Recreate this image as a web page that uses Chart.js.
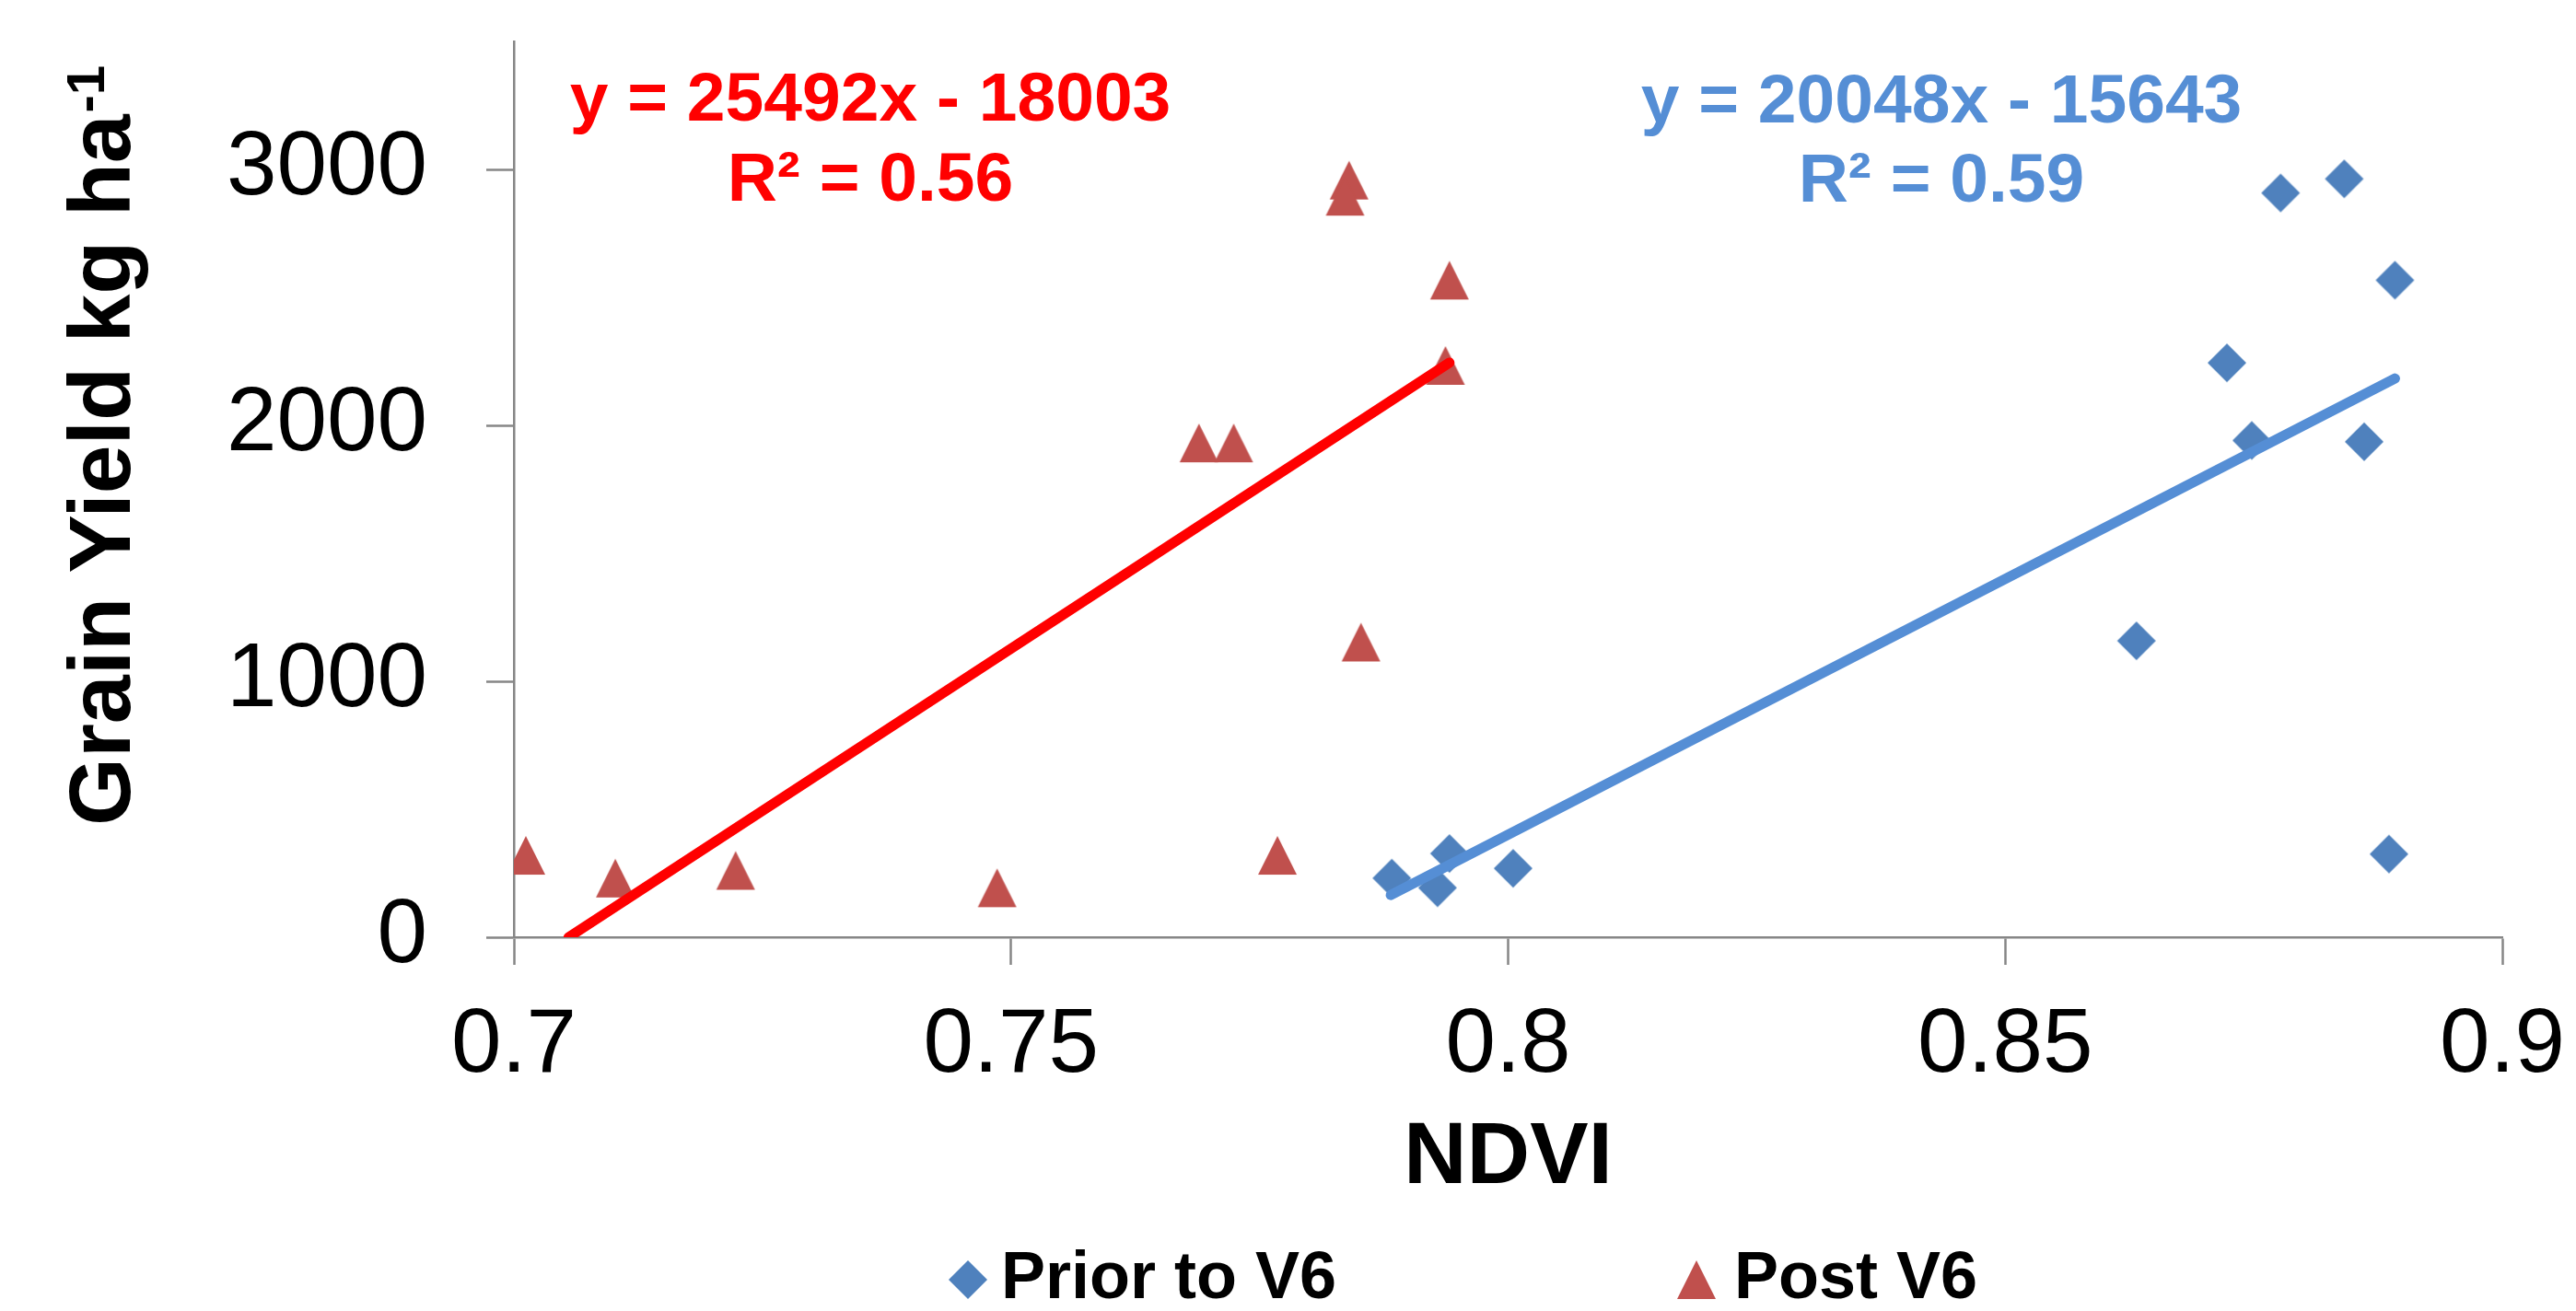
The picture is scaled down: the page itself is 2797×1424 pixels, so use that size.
<!DOCTYPE html>
<html>
<head>
<meta charset="utf-8">
<title>Grain yield vs NDVI</title>
<script src="https://cdn.jsdelivr.net/npm/chart.js@4.4.1/dist/chart.umd.min.js"></script>
<style>
  html, body { margin: 0; padding: 0; background: #fff; overflow: hidden; }
  canvas { display: block; }
</style>
</head>
<body>
<canvas id="chart" width="2797" height="1424"></canvas>
<script>
// values
const xTicks = [0.7, 0.75, 0.8, 0.85, 0.9];
const xTickLabels = ['0.7', '0.75', '0.8', '0.85', '0.9'];
const yTicks = [0, 1000, 2000, 3000];

const seriesLabels = ['Prior to V6', 'Post V6'];

const priorNdvi  = [0.7883, 0.7929, 0.7941, 0.8005, 0.8632, 0.8723, 0.8748, 0.8777, 0.8841, 0.8892, 0.8861, 0.8886];
const priorYield = [231, 193, 327, 269, 1158, 2244, 1941, 2908, 2963, 2567, 1936, 325];

const postNdvi  = [0.7012, 0.7102, 0.7223, 0.7486, 0.7689, 0.7724, 0.7768, 0.7840, 0.7836, 0.7941, 0.7937, 0.7852];
const postYield = [320, 231, 261, 193, 1931, 1931, 320, 2958, 2895, 2567, 2234, 1153];

// trendline end points as drawn in the picture
const priorTrendNdvi  = [0.7882, 0.8892];
const priorTrendYield = [165, 2183];
const postTrendNdvi  = [0.7055, 0.7941];
const postTrendYield = [0, 2245];

const postEquation  = ['y = 25492x - 18003', 'R\u00B2 = 0.56'];
const priorEquation = ['y = 20048x - 15643', 'R\u00B2 = 0.59'];

const FONT = '"Liberation Sans", Arial, sans-serif';
const BLUE_MARK = '#4F81BD';
const RED_MARK = '#C0504D';
const BLUE_LINE = '#558ED5';
const RED_LINE = '#FF0000';
const AXIS = '#868686';

function toPoints(xs, ys) {
    return xs.map(function(x, i) { return { x: x, y: ys[i] }; });
}

// marker images, centred on their bounding box like the original
function makeMarker(kind, color) {
    const c = document.createElement('canvas');
    c.width = 44;
    c.height = 44;
    const g = c.getContext('2d');
    g.fillStyle = color;
    g.beginPath();
    if (kind === 'diamond') {
        g.moveTo(22, 1); g.lineTo(43, 22); g.lineTo(22, 43); g.lineTo(1, 22);
    } else {
        g.moveTo(22, 1); g.lineTo(43, 43); g.lineTo(1, 43);
    }
    g.closePath();
    g.fill();
    return c;
}

const diamond = makeMarker('diamond', BLUE_MARK);
const triangle = makeMarker('triangle', RED_MARK);

const overlay = {
    id: 'overlay',
    afterDraw(chart) {
        const ctx = chart.ctx;

        // y axis title with superscript
        ctx.save();
        ctx.fillStyle = '#000';
        ctx.translate(141, 897);
        ctx.rotate(-Math.PI / 2);
        ctx.textAlign = 'left';
        ctx.textBaseline = 'alphabetic';
        ctx.font = 'bold 95px ' + FONT;
        ctx.fillText('Grain Yield kg ha', 0, 0);
        const w = ctx.measureText('Grain Yield kg ha').width;
        ctx.font = 'bold 58px ' + FONT;
        ctx.fillText('-1', w + 2, -28);
        ctx.restore();

        // trendline equations
        ctx.save();
        ctx.textAlign = 'center';
        ctx.textBaseline = 'alphabetic';
        ctx.font = 'bold 75px ' + FONT;
        ctx.fillStyle = RED_LINE;
        ctx.fillText(postEquation[0], 945, 131);
        ctx.fillText(postEquation[1], 945, 218);
        ctx.fillStyle = BLUE_LINE;
        ctx.fillText(priorEquation[0], 2108, 133);
        ctx.fillText(priorEquation[1], 2108, 219);
        ctx.restore();

        // legend
        ctx.save();
        ctx.font = 'bold 72px ' + FONT;
        ctx.fillStyle = '#000';
        ctx.textAlign = 'left';
        ctx.textBaseline = 'alphabetic';
        const markX = [1051, 1842];
        const textX = [1087, 1883];
        chart.data.datasets.filter(function(d) { return !d.trend; }).forEach(function(d, i) {
            const img = d.pointStyle;
            ctx.drawImage(img, markX[i] - img.width / 2, 1390 - img.height / 2);
            ctx.fillText(d.label, textX[i], 1410);
        });
        ctx.restore();
    }
};

Chart.defaults.font.family = FONT;
Chart.defaults.color = '#000';

const ctx = document.getElementById('chart').getContext('2d');
new Chart(ctx, {
    type: 'scatter',
    data: {
        datasets: [
            {
                label: seriesLabels[0] + ' trend',
                trend: true,
                data: toPoints(priorTrendNdvi, priorTrendYield),
                showLine: true,
                borderColor: BLUE_LINE,
                borderWidth: 11,
                borderCapStyle: 'round',
                pointRadius: 0,
                clip: 0,
                order: 0
            },
            {
                label: seriesLabels[1] + ' trend',
                trend: true,
                data: toPoints(postTrendNdvi, postTrendYield),
                showLine: true,
                borderColor: RED_LINE,
                borderWidth: 11,
                borderCapStyle: 'round',
                pointRadius: 0,
                clip: 0,
                order: 0
            },
            {
                label: seriesLabels[0],
                data: toPoints(priorNdvi, priorYield),
                pointStyle: diamond,
                pointRadius: 22,
                backgroundColor: BLUE_MARK,
                borderColor: BLUE_MARK,
                order: 1
            },
            {
                label: seriesLabels[1],
                data: toPoints(postNdvi, postYield),
                pointStyle: triangle,
                pointRadius: 22,
                backgroundColor: RED_MARK,
                borderColor: RED_MARK,
                order: 1
            }
        ]
    },
    options: {
        responsive: false,
        animation: false,
        events: [],
        layout: { padding: { left: 0, right: 80, top: 45, bottom: 0 } },
        plugins: {
            legend: { display: false },
            tooltip: { enabled: false }
        },
        scales: {
            x: {
                type: 'linear',
                min: 0.7,
                max: 0.9,
                afterBuildTicks: function(scale) {
                    scale.ticks = xTicks.map(function(v) { return { value: v }; });
                },
                afterFit: function(scale) {
                    scale.height = 406;
                    scale.paddingLeft = 0;
                    scale.paddingRight = 0;
                },
                ticks: {
                    maxRotation: 0,
                    autoSkip: false,
                    padding: 30,
                    font: { size: 98 },
                    callback: function(v, i) { return xTickLabels[i]; }
                },
                grid: {
                    drawOnChartArea: false,
                    drawTicks: true,
                    tickLength: 30,
                    tickColor: AXIS,
                    tickWidth: 2.5
                },
                border: { color: AXIS, width: 2.5 },
                title: {
                    display: true,
                    text: 'NDVI',
                    font: { size: 95, weight: 'bold' },
                    padding: { top: 0, bottom: 108 }
                }
            },
            y: {
                type: 'linear',
                min: 0,
                max: 3500,
                afterBuildTicks: function(scale) {
                    scale.ticks = yTicks.map(function(v) { return { value: v }; });
                },
                afterFit: function(scale) {
                    scale.width = 558;
                    scale.paddingTop = 0;
                    scale.paddingBottom = 0;
                },
                ticks: {
                    padding: 64,
                    font: { size: 98 },
                    callback: function(v) { return String(v); }
                },
                grid: {
                    drawOnChartArea: false,
                    drawTicks: true,
                    tickLength: 30,
                    tickColor: AXIS,
                    tickWidth: 2.5
                },
                border: { color: AXIS, width: 2.5 }
            }
        }
    },
    plugins: [overlay]
});
</script>
</body>
</html>
